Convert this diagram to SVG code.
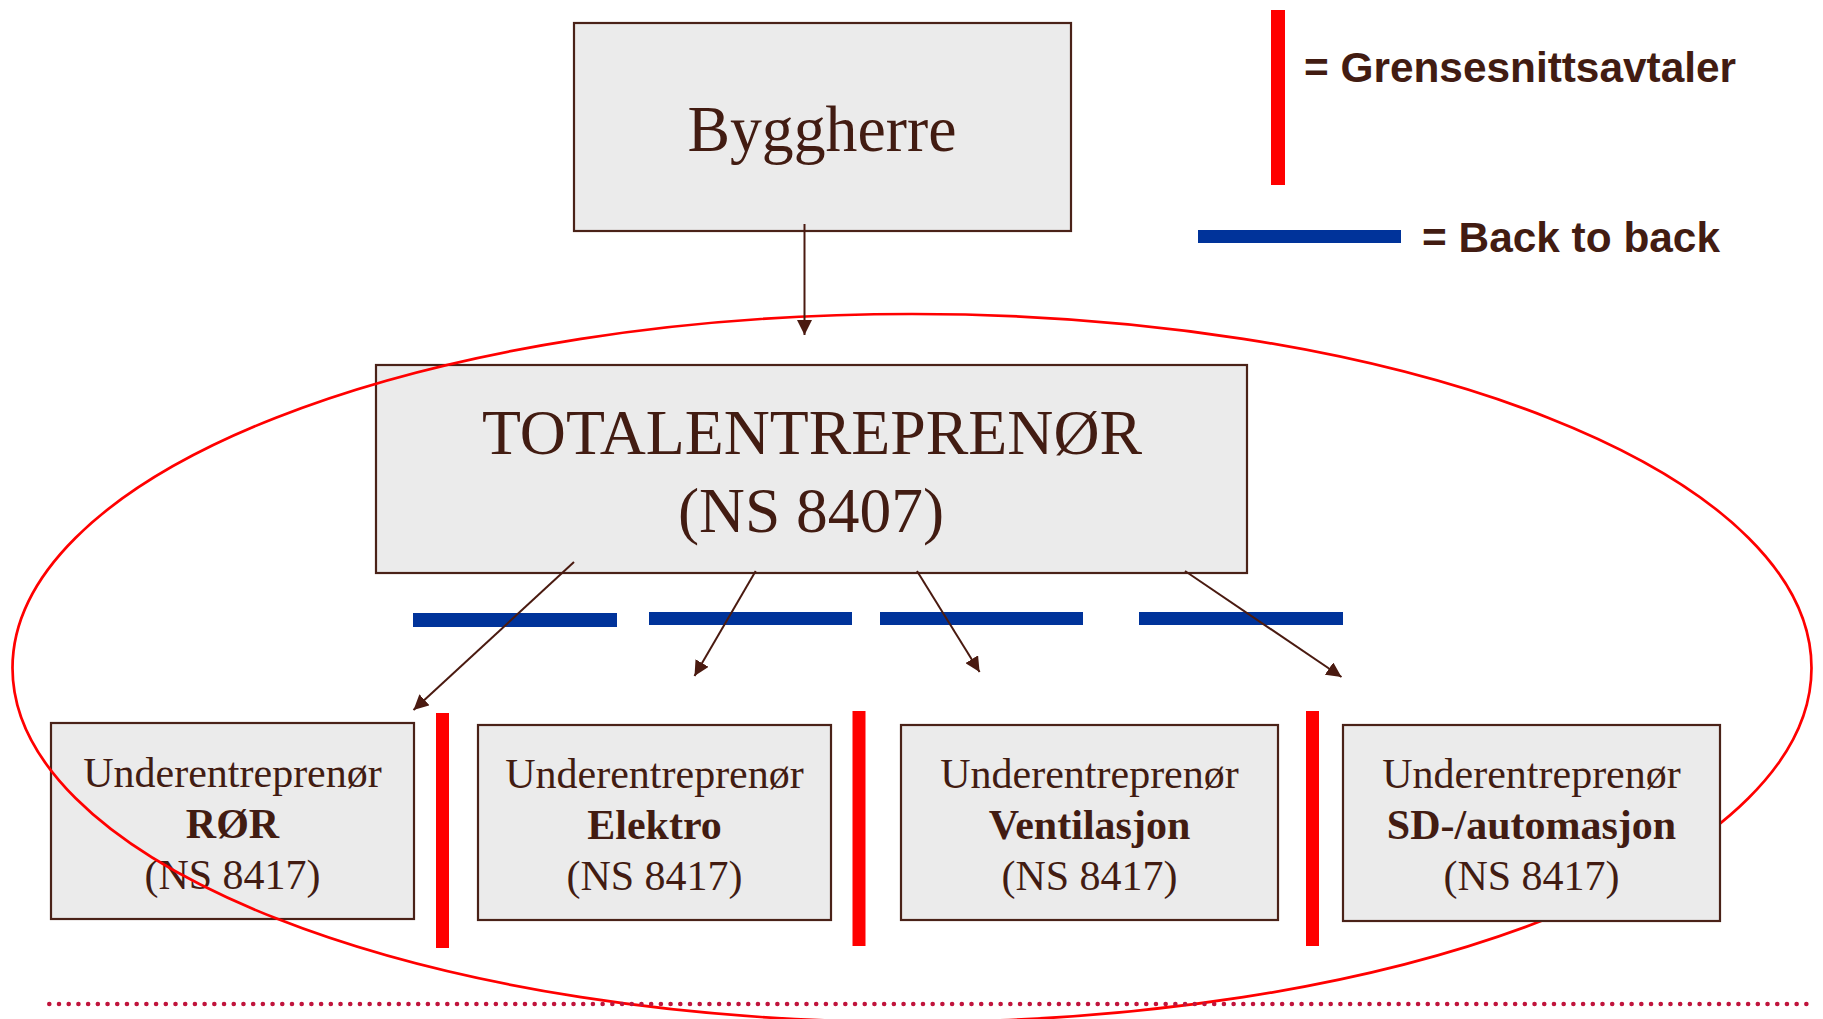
<svg xmlns="http://www.w3.org/2000/svg" width="1823" height="1019" viewBox="0 0 1823 1019">
<style>
.box{fill:#EBEBEB;stroke:#4A2218;stroke-width:2.2}
.serif{font-family:"Liberation Serif","Times New Roman",serif;fill:#421C12;text-anchor:middle}
.sub{font-size:42px}
.b{font-weight:bold}
.legend{font-family:"Liberation Sans",Arial,sans-serif;font-weight:bold;font-size:42px;fill:#421C12}
.red{fill:#FF0000}
.blue{fill:#00339A}
.conn{stroke:#4A1A10;stroke-width:2;fill:none;marker-end:url(#ah)}
</style>
<defs>
<marker id="ah" markerUnits="userSpaceOnUse" viewBox="0 0 15 15" markerWidth="15" markerHeight="15" refX="15" refY="7.5" orient="auto">
<path d="M0,0 L15,7.5 L0,15 Z" fill="#4A1A10"/>
</marker>
</defs>
<rect width="1823" height="1019" fill="#FFFFFF"/>

<g id="legend">
<rect class="red" x="1271" y="10" width="14" height="175"/>
<text class="legend" x="1304" y="82" textLength="432" lengthAdjust="spacingAndGlyphs">= Grensesnittsavtaler</text>
<rect class="blue" x="1198" y="230" width="203" height="13"/>
<text class="legend" x="1422" y="252" textLength="298" lengthAdjust="spacingAndGlyphs">= Back to back</text>
</g>

<g id="node-totalentreprenor">
<rect class="box" x="376" y="365" width="871" height="208"/>
<text class="serif" x="812" y="454" font-size="64" textLength="660" lengthAdjust="spacingAndGlyphs">TOTALENTREPRENØR</text>
<text class="serif" x="811" y="532" font-size="64" textLength="266" lengthAdjust="spacingAndGlyphs">(NS 8407)</text>
</g>

<g id="node-byggherre">
<rect class="box" x="574" y="23" width="497" height="208"/>
<text class="serif" x="822" y="151" font-size="65" textLength="269" lengthAdjust="spacingAndGlyphs">Byggherre</text>
</g>

<g id="node-ror">
<rect class="box" x="51" y="723" width="363" height="196"/>
<text class="serif sub" x="232.5" y="787">Underentreprenør</text>
<text class="serif sub b" x="232.5" y="838">RØR</text>
<text class="serif sub" x="232.5" y="889">(NS 8417)</text>
</g>

<g id="node-elektro">
<rect class="box" x="478" y="725" width="353" height="195"/>
<text class="serif sub" x="654.5" y="788">Underentreprenør</text>
<text class="serif sub b" x="654.5" y="839">Elektro</text>
<text class="serif sub" x="654.5" y="890">(NS 8417)</text>
</g>

<g id="node-ventilasjon">
<rect class="box" x="901" y="725" width="377" height="195"/>
<text class="serif sub" x="1089.5" y="788">Underentreprenør</text>
<text class="serif sub b" x="1089.5" y="839">Ventilasjon</text>
<text class="serif sub" x="1089.5" y="890">(NS 8417)</text>
</g>

<g id="boundary">
<ellipse cx="912" cy="668" rx="899.5" ry="354" fill="none" stroke="#FF0000" stroke-width="2.7"/>
</g>

<g id="node-sd">
<rect class="box" x="1343" y="725" width="377" height="196"/>
<text class="serif sub" x="1531.5" y="788">Underentreprenør</text>
<text class="serif sub b" x="1531.5" y="839">SD-/automasjon</text>
<text class="serif sub" x="1531.5" y="890">(NS 8417)</text>
</g>

<g id="interfaces">
<rect class="red" x="436" y="713" width="13" height="235"/>
<rect class="red" x="852.5" y="711" width="13" height="235"/>
<rect class="red" x="1306" y="711" width="13" height="235"/>
</g>

<g id="back-to-back">
<rect class="blue" x="413" y="613" width="204" height="14"/>
<rect class="blue" x="649" y="612" width="203" height="13"/>
<rect class="blue" x="880" y="612" width="203" height="13"/>
<rect class="blue" x="1139" y="612" width="204" height="13"/>
</g>

<g id="connectors">
<line class="conn" x1="804.5" y1="224" x2="804.5" y2="335"/>
<line class="conn" x1="574" y1="562" x2="413.5" y2="710"/>
<line class="conn" x1="755.7" y1="571" x2="694.5" y2="676"/>
<line class="conn" x1="917" y1="571" x2="979.6" y2="672"/>
<line class="conn" x1="1185" y1="571" x2="1341.5" y2="677"/>
</g>

<line x1="49.3" y1="1004" x2="1816" y2="1004" stroke="#C0143C" stroke-width="4.6" stroke-linecap="round" stroke-dasharray="0 9.7075"/>
</svg>
